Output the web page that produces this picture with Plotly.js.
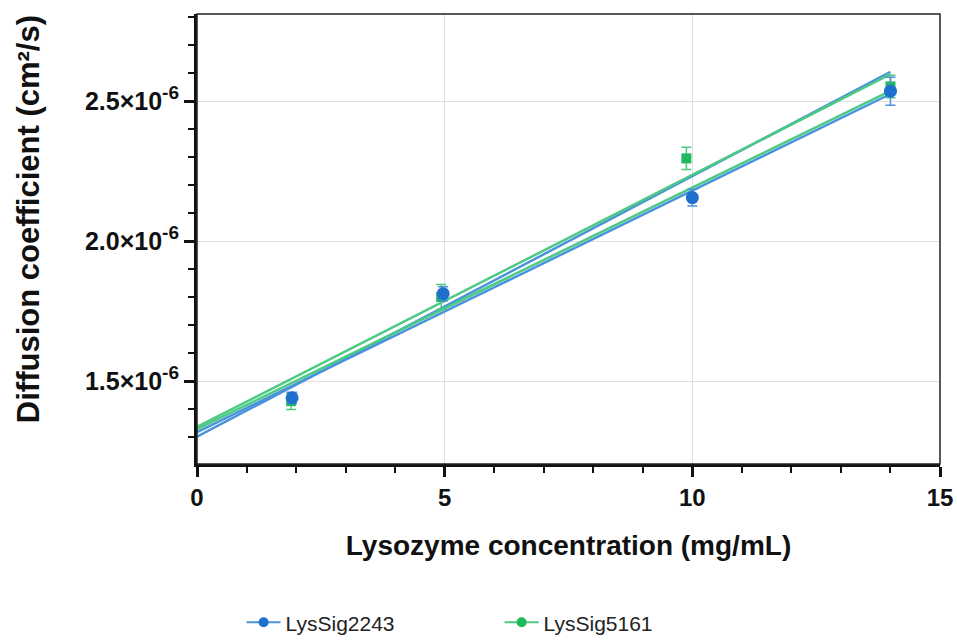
<!DOCTYPE html>
<html>
<head>
<meta charset="utf-8">
<script src="https://cdn.plot.ly/plotly-3.0.1.min.js"></script>
<style>html,body{margin:0;padding:0;background:#fff;}#chart{width:957px;height:644px;}</style>
</head>
<body>
<div id="chart"></div>
<script>
// Data
const seriesNames = ["LysSig2243", "LysSig5161"];
const blueX = [1.92, 4.97, 10.0, 14.0];
const blueY = [1.440e-6, 1.812e-6, 2.155e-6, 2.535e-6];
const blueErr = [0.02e-6, 0.025e-6, 0.03e-6, 0.05e-6];
const greenX = [1.90, 4.93, 9.88, 14.0];
const greenY = [1.428e-6, 1.800e-6, 2.295e-6, 2.552e-6];
const greenErr = [0.03e-6, 0.045e-6, 0.04e-6, 0.04e-6];

// Fit / band lines (endpoints at x = 0 and x = 14)
const fitX = [0, 14];
const blueUpper = [1.301e-6, 2.604e-6];
const blueLower = [1.317e-6, 2.525e-6];
const greenUpper = [1.336e-6, 2.596e-6];
const greenLower = [1.328e-6, 2.536e-6];

const yTickVals = [1.5e-6, 2.0e-6, 2.5e-6];
const yTickText = ["1.5×10<sup><span style='font-size:19px'>-6</span></sup>",
                   "2.0×10<sup><span style='font-size:19px'>-6</span></sup>",
                   "2.5×10<sup><span style='font-size:19px'>-6</span></sup>"];
const xTickVals = [0, 5, 10, 15];
const xTickText = ["0", "5", "10", "15"];
const xTitle = "Lysozyme concentration (mg/mL)";
const yTitle = "Diffusion coefficient (cm²/s)";

const BLUE = "#1f6fcf", BLUE_L = "#4a93dc";
const GREEN = "#1fb85a", GREEN_L = "#4cc984";

function lineTrace(y, color) {
  return {x: fitX, y: y, mode: "lines", line: {color: color, width: 2.5}, showlegend: false, hoverinfo: "skip"};
}

const FONT = "Liberation Sans, Arial, sans-serif";

const traces = [
  lineTrace(blueUpper, BLUE_L),
  lineTrace(blueLower, BLUE_L),
  lineTrace(greenUpper, GREEN_L),
  lineTrace(greenLower, GREEN_L),
  {x: greenX, y: greenY, mode: "markers", showlegend: false,
   marker: {symbol: "square", size: 10, color: GREEN},
   error_y: {type: "data", array: greenErr, visible: true, color: GREEN_L, thickness: 1.5, width: 5}},
  {x: blueX, y: blueY, mode: "markers", showlegend: false,
   marker: {symbol: "circle", size: 13, color: BLUE},
   error_y: {type: "data", array: blueErr, visible: true, color: BLUE_L, thickness: 1.5, width: 5}},
  {x: [null], y: [null], mode: "lines+markers", name: seriesNames[0],
   line: {color: BLUE_L, width: 2}, marker: {color: BLUE, size: 10, symbol: "circle"}},
  {x: [null], y: [null], mode: "lines+markers", name: seriesNames[1],
   line: {color: GREEN_L, width: 2}, marker: {color: GREEN, size: 10, symbol: "circle"}}
];

const layout = {
  width: 957, height: 644,
  margin: {l: 197, r: 17, t: 14, b: 180, autoexpand: false},
  paper_bgcolor: "#fff", plot_bgcolor: "#fff",
  font: {family: FONT, color: "#111"},
  xaxis: {
    range: [0, 15], tickmode: "array", tickvals: xTickVals, ticktext: xTickText,
    ticks: "outside", ticklen: 10, tickwidth: 3, tickcolor: "#111",
    showline: true, linecolor: "#111", linewidth: 3,
    showgrid: true, gridcolor: "#e0e0e0", gridwidth: 1, zeroline: false,
    tickfont: {size: 24, family: FONT, color: "#111", weight: "bold"},
    minor: {tickmode: "linear", tick0: 0, dtick: 1, ticks: "outside", ticklen: 6, tickwidth: 2, tickcolor: "#111", showgrid: false},
    title: {text: "<b>" + xTitle + "</b>", font: {size: 28, family: FONT, color: "#111"}, standoff: 26}
  },
  yaxis: {
    range: [1.2036e-6, 2.8107e-6], tickmode: "array", tickvals: yTickVals, ticktext: yTickText,
    ticks: "outside", ticklen: 10, tickwidth: 3, tickcolor: "#111",
    showline: true, linecolor: "#111", linewidth: 3,
    showgrid: true, gridcolor: "#e0e0e0", gridwidth: 1, zeroline: false,
    tickfont: {size: 25, family: FONT, color: "#111", weight: "bold"},
    minor: {tickmode: "linear", tick0: 0, dtick: 1e-7, ticks: "outside", ticklen: 6, tickwidth: 2, tickcolor: "#111", showgrid: false}
  },
  annotations: [
    {text: "<b>" + yTitle + "</b>", xref: "paper", yref: "paper",
     x: -0.2275, y: 0.544, xanchor: "center", yanchor: "middle", textangle: -90,
     showarrow: false, font: {size: 31, family: FONT, color: "#111"}}
  ],
  shapes: [
    {type: "rect", xref: "paper", yref: "paper", x0: 0, x1: 1, y0: 0, y1: 1,
     line: {color: "#222", width: 1.5}, fillcolor: "rgba(0,0,0,0)"}
  ],
  legend: {
    orientation: "h", x: 0.06, xanchor: "left", y: -0.307, yanchor: "top",
    font: {size: 21, family: FONT, color: "#222"}, entrywidth: 209, itemwidth: 34,
    bgcolor: "rgba(0,0,0,0)"
  },
  showlegend: true
};

Plotly.newPlot("chart", traces, layout, {displayModeBar: false, staticPlot: true});
</script>
</body>
</html>
